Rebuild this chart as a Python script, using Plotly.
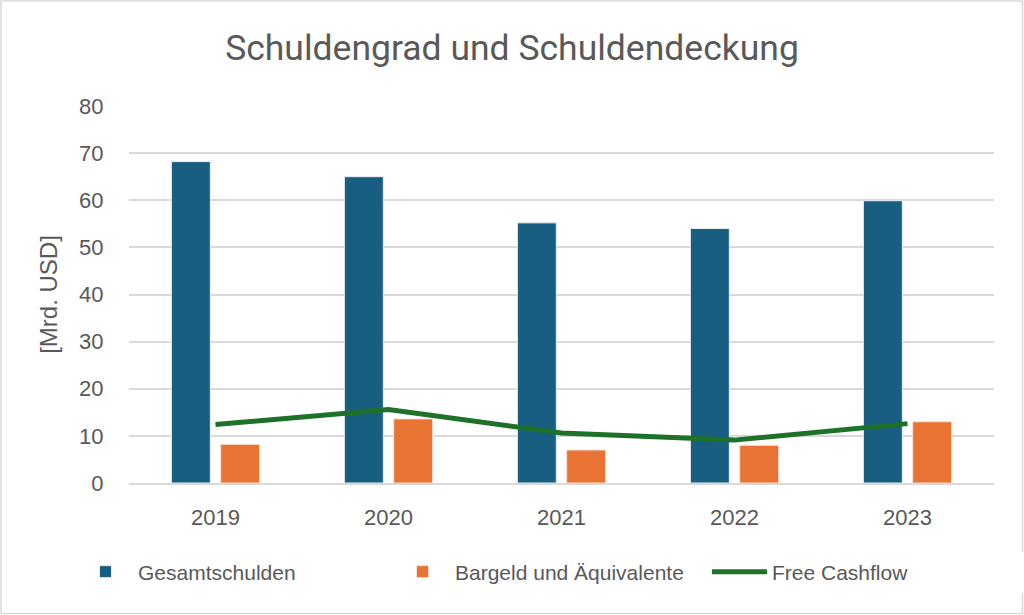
import plotly.graph_objects as go

years = ["2019", "2020", "2021", "2022", "2023"]
gesamtschulden = [68.2, 65.0, 55.2, 54.0, 59.9]
bargeld = [8.2, 13.6, 7.0, 8.0, 13.0]
free_cashflow = [12.4, 15.6, 10.6, 9.1, 12.6]

TITLE_FONT = "Roboto, sans-serif"
FONT = "Liberation Sans, Arial, sans-serif"
GREY = "#595959"

L, R, T, B = 129, 30, 106, 132
PW, PH = 1024 - L - R, 615 - T - B

fig = go.Figure()
fig.add_trace(go.Bar(x=years, y=gesamtschulden, name="Gesamtschulden",
                     marker=dict(color="#175E80", line=dict(color="#E8EEF2", width=1))))
fig.add_trace(go.Bar(x=years, y=bargeld, name="Bargeld und Äquivalente",
                     marker=dict(color="#E97333", line=dict(color="#F6E1D4", width=1))))
fig.add_trace(go.Scatter(x=years, y=free_cashflow, name="Free Cashflow", mode="lines",
                         line=dict(color="#1D7128", width=5)))

fig.update_layout(
    width=1024, height=615,
    paper_bgcolor="white", plot_bgcolor="white",
    margin=dict(l=L, r=R, t=T, b=B),
    font=dict(family=FONT, color=GREY, size=22),
    title=dict(text="Schuldengrad und Schuldendeckung", x=0.5, xanchor="center",
               y=1 - 48 / 615, yanchor="middle", font=dict(size=35.5, color=GREY, family=TITLE_FONT)),
    barmode="group", bargap=0.43, bargroupgap=0.21,
    showlegend=True,
    legend=dict(orientation="h", x=(102 - L) / PW, xanchor="left", y=-(572 - 483) / PH, yanchor="middle",
                font=dict(size=21, color=GREY, family=FONT), itemwidth=55,
                entrywidth=247, traceorder="normal"),
    xaxis=dict(showgrid=False, showline=True, linecolor="#D9D9D9", linewidth=1.5,
               ticks="outside", ticklen=14, tickcolor="rgba(0,0,0,0)",
               tickfont=dict(size=22, color=GREY, family=FONT)),
    yaxis=dict(range=[0, 80], dtick=10, showgrid=True, gridcolor="#D9D9D9", gridwidth=1.5,
               zeroline=False, ticks="outside", ticklen=20, tickcolor="rgba(0,0,0,0)",
               tickfont=dict(size=22, color=GREY, family=FONT),
               title=dict(text="[Mrd. USD]", font=dict(size=24, color=GREY, family=FONT), standoff=14)),
    shapes=[dict(type="rect", xref="paper", yref="paper",
                 x0=-(L - 1) / PW, x1=1 + (R - 1.5) / PW,
                 y0=-(B - 1.5) / PH, y1=1 + (T - 1) / PH,
                 line=dict(color="#D9D9D9", width=1.5))],
)

fig.write_html("out.html", config={"displayModeBar": False},
               post_script="document.body.style.margin='0px';")
